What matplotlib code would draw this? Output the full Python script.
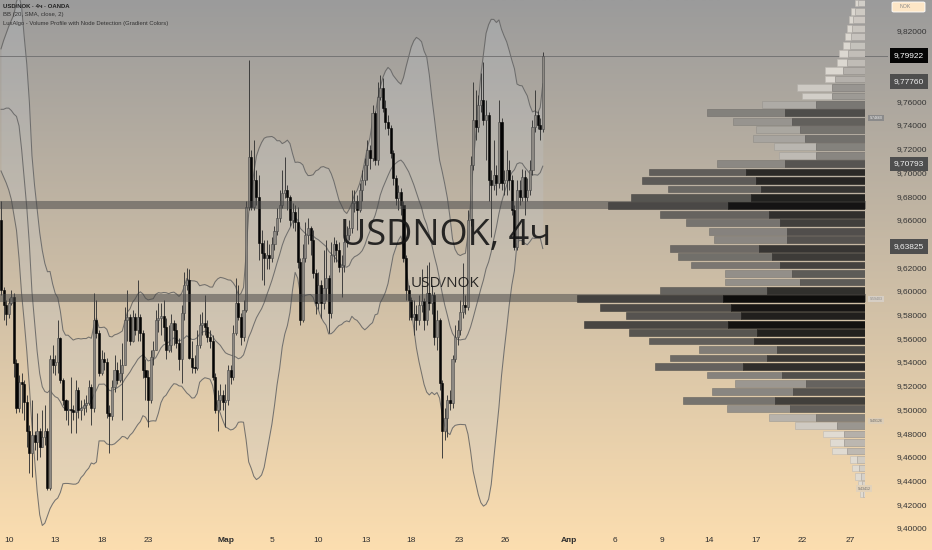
import numpy as np
import pandas as pd
import matplotlib
matplotlib.use("Agg")
import matplotlib.pyplot as plt
from matplotlib.transforms import blended_transform_factory
from matplotlib.patches import FancyBboxPatch

# ---------------- data ----------------
first_open = 9.661
closes = [9.602, 9.589, 9.581, 9.591, 9.596, 9.540, 9.502, 9.524, 9.522, 9.507,
          9.483, 9.464, 9.479, 9.473, 9.483, 9.469, 9.478, 9.483, 9.435, 9.543,
          9.538, 9.541, 9.561, 9.526, 9.509, 9.500, 9.501, 9.500, 9.499, 9.517,
          9.500, 9.502, 9.505, 9.506, 9.520, 9.502, 9.576, 9.565, 9.532, 9.543,
          9.541, 9.498, 9.495, 9.520, 9.534, 9.526, 9.532, 9.538, 9.576, 9.579,
          9.559, 9.579, 9.568, 9.579, 9.565, 9.534, 9.528, 9.509, 9.545, 9.551,
          9.576, 9.578, 9.580, 9.570, 9.551, 9.555, 9.574, 9.568, 9.557, 9.543,
          9.582, 9.606, 9.610, 9.544, 9.537, 9.536, 9.555, 9.572, 9.574, 9.570,
          9.562, 9.559, 9.528, 9.500, 9.509, 9.513, 9.507, 9.509, 9.534, 9.528,
          9.565, 9.591, 9.579, 9.562, 9.585, 9.672, 9.714, 9.672, 9.694, 9.680,
          9.641, 9.633, 9.629, 9.631, 9.629, 9.640, 9.651, 9.662, 9.673, 9.683,
          9.686, 9.680, 9.661, 9.667, 9.659, 9.625, 9.576, 9.629, 9.648, 9.654,
          9.644, 9.616, 9.591, 9.606, 9.591, 9.603, 9.612, 9.582, 9.631, 9.640,
          9.635, 9.621, 9.623, 9.642, 9.648, 9.654, 9.675, 9.677, 9.669, 9.686,
          9.694, 9.707, 9.720, 9.713, 9.751, 9.711, 9.764, 9.772, 9.755, 9.743,
          9.738, 9.717, 9.696, 9.679, 9.684, 9.673, 9.629, 9.602, 9.593, 9.579,
          9.581, 9.576, 9.589, 9.592, 9.576, 9.599, 9.591, 9.597, 9.562, 9.576,
          9.523, 9.483, 9.494, 9.509, 9.506, 9.543, 9.562, 9.568, 9.583, 9.589,
          9.587, 9.661, 9.707, 9.745, 9.739, 9.758, 9.762, 9.745, 9.749, 9.694,
          9.690, 9.699, 9.692, 9.743, 9.692, 9.694, 9.703, 9.694, 9.669, 9.638,
          9.686, 9.680, 9.697, 9.680, 9.686, 9.703, 9.739, 9.749, 9.741, 9.737,
          9.7992]
highs = [9.677, 9.604, 9.593, 9.595, 9.602, 9.599, 9.543, 9.530, 9.532, 9.526,
         9.513, 9.488, 9.509, 9.483, 9.498, 9.485, 9.500, 9.505, 9.485, 9.547,
         9.555, 9.547, 9.576, 9.562, 9.527, 9.510, 9.509, 9.528, 9.505, 9.526,
         9.520, 9.509, 9.510, 9.513, 9.526, 9.522, 9.599, 9.593, 9.568, 9.551,
         9.549, 9.544, 9.505, 9.526, 9.547, 9.541, 9.543, 9.557, 9.587, 9.602,
         9.581, 9.585, 9.582, 9.610, 9.581, 9.568, 9.543, 9.534, 9.551, 9.559,
         9.585, 9.591, 9.591, 9.593, 9.578, 9.572, 9.581, 9.576, 9.574, 9.561,
         9.589, 9.617, 9.620, 9.619, 9.559, 9.547, 9.568, 9.581, 9.583, 9.597,
         9.576, 9.568, 9.564, 9.532, 9.517, 9.522, 9.517, 9.522, 9.538, 9.538,
         9.572, 9.612, 9.606, 9.582, 9.593, 9.677, 9.796, 9.720, 9.728, 9.703,
         9.699, 9.652, 9.644, 9.644, 9.640, 9.646, 9.656, 9.671, 9.686, 9.703,
         9.714, 9.690, 9.682, 9.675, 9.673, 9.672, 9.629, 9.640, 9.659, 9.662,
         9.656, 9.652, 9.619, 9.617, 9.610, 9.635, 9.644, 9.614, 9.642, 9.646,
         9.644, 9.642, 9.631, 9.648, 9.656, 9.661, 9.686, 9.686, 9.682, 9.692,
         9.703, 9.713, 9.728, 9.724, 9.758, 9.753, 9.777, 9.783, 9.780, 9.762,
         9.749, 9.741, 9.720, 9.699, 9.690, 9.688, 9.677, 9.631, 9.606, 9.596,
         9.593, 9.589, 9.597, 9.619, 9.595, 9.623, 9.625, 9.606, 9.600, 9.585,
         9.578, 9.526, 9.502, 9.513, 9.517, 9.547, 9.572, 9.576, 9.593, 9.624,
         9.597, 9.669, 9.715, 9.777, 9.770, 9.766, 9.785, 9.794, 9.762, 9.752,
         9.703, 9.728, 9.707, 9.762, 9.747, 9.703, 9.720, 9.711, 9.699, 9.673,
         9.694, 9.694, 9.704, 9.703, 9.696, 9.711, 9.745, 9.770, 9.753, 9.747,
         9.802]
lows = [9.597, 9.576, 9.572, 9.578, 9.589, 9.528, 9.498, 9.499, 9.498, 9.492,
        9.469, 9.447, 9.444, 9.467, 9.458, 9.461, 9.469, 9.471, 9.433, 9.433,
        9.532, 9.530, 9.532, 9.523, 9.505, 9.492, 9.488, 9.481, 9.492, 9.481,
        9.494, 9.492, 9.496, 9.499, 9.505, 9.488, 9.499, 9.561, 9.529, 9.530,
        9.534, 9.494, 9.464, 9.492, 9.516, 9.522, 9.524, 9.492, 9.538, 9.559,
        9.555, 9.558, 9.564, 9.559, 9.559, 9.527, 9.509, 9.486, 9.506, 9.538,
        9.555, 9.566, 9.564, 9.559, 9.543, 9.549, 9.549, 9.555, 9.553, 9.534,
        9.523, 9.576, 9.602, 9.543, 9.532, 9.532, 9.534, 9.553, 9.564, 9.564,
        9.558, 9.553, 9.526, 9.498, 9.483, 9.500, 9.500, 9.486, 9.505, 9.522,
        9.526, 9.564, 9.576, 9.555, 9.559, 9.583, 9.669, 9.669, 9.669, 9.673,
        9.627, 9.610, 9.606, 9.619, 9.619, 9.625, 9.635, 9.648, 9.659, 9.671,
        9.679, 9.669, 9.656, 9.654, 9.651, 9.620, 9.572, 9.575, 9.625, 9.640,
        9.631, 9.612, 9.581, 9.586, 9.578, 9.586, 9.593, 9.565, 9.578, 9.625,
        9.625, 9.617, 9.596, 9.617, 9.638, 9.644, 9.650, 9.667, 9.652, 9.667,
        9.677, 9.690, 9.694, 9.704, 9.710, 9.707, 9.707, 9.762, 9.752, 9.737,
        9.732, 9.713, 9.690, 9.673, 9.669, 9.665, 9.625, 9.593, 9.576, 9.576,
        9.564, 9.568, 9.572, 9.583, 9.568, 9.572, 9.585, 9.581, 9.555, 9.551,
        9.517, 9.460, 9.475, 9.478, 9.500, 9.502, 9.541, 9.555, 9.564, 9.578,
        9.581, 9.585, 9.656, 9.703, 9.728, 9.735, 9.752, 9.741, 9.711, 9.677,
        9.646, 9.686, 9.682, 9.688, 9.686, 9.682, 9.682, 9.686, 9.665, 9.635,
        9.635, 9.673, 9.677, 9.665, 9.677, 9.682, 9.699, 9.735, 9.737, 9.728,
        9.735]

# Bollinger band values for the first bars (before 20 closes exist)
bb_upper_early = [9.805, 9.812, 9.818, 9.824, 9.829, 9.834, 9.845, 9.850, 9.840, 9.815,
                  9.792, 9.760, 9.715, 9.690, 9.670, 9.650, 9.635, 9.624, 9.617]
bb_mid_early = [9.754, 9.754, 9.755, 9.755, 9.753, 9.750, 9.748, 9.740, 9.720, 9.695,
                9.671, 9.640, 9.600, 9.575, 9.550, 9.531, 9.520, 9.516, 9.515]
bb_lower_early = [9.702, 9.697, 9.692, 9.686, 9.678, 9.665, 9.652, 9.628, 9.598, 9.575,
                  9.550, 9.520, 9.487, 9.460, 9.432, 9.412, 9.403, 9.405, 9.411]

# volume profile rows (top to bottom), total and darker part
prof_top = 9.8437
prof_step = 0.00713
prof_total = [10, 14, 16, 18, 20, 22, 26, 28, 40, 40,
              68, 63, 103, 158, 132, 109, 112, 91, 86, 148,
              216, 223, 197, 234, 257, 205, 179, 156, 151, 195,
              187, 174, 140, 140, 205, 288, 265, 239, 281, 236,
              216, 166, 195, 210, 158, 130, 153, 182, 138, 96,
              70, 42, 35, 33, 15, 13, 10, 7, 5]
prof_dark = [7, 10, 12, 13, 14, 15, 17, 18, 22, 30,
             33, 33, 49, 80, 73, 65, 60, 49, 49, 80,
             119, 109, 104, 114, 137, 96, 85, 78, 78, 106,
             93, 85, 73, 65, 98, 142, 134, 124, 137, 108,
             111, 88, 98, 122, 83, 59, 72, 90, 75, 49,
             28, 21, 21, 18, 8, 6, 4, 3, 2]
poc_levels = [9.673, 9.595]
node_labels = [9.74660, 9.59403, 9.49126, 9.43412]
last_price = 9.79922
bb_last = [9.77760, 9.70793, 9.63825]

# price scale labels visible in the picture (9.80 and 9.64 sit under the value boxes)
price_ticks = [9.40, 9.42, 9.44, 9.46, 9.48, 9.50, 9.52, 9.54, 9.56, 9.58, 9.60,
               9.62, 9.66, 9.68, 9.70, 9.72, 9.74, 9.76, 9.78, 9.82]
date_labels = ["10", "13", "18", "23", "Мар", "5", "10", "13", "18", "23", "26",
               "Апр", "6", "9", "14", "17", "22", "27"]
date_bars = [3, 21, 39, 57, 87, 105, 123, 141.5, 159, 177.5, 195.5,
             220, 238, 256, 274.5, 292.5, 310.5, 329]

# ---------------- figure ----------------
W, H = 932, 550
fig = plt.figure(figsize=(W / 100, H / 100), dpi=100)

bg = fig.add_axes([0, 0, 1, 1])
bg.axis("off")
top = np.array([155, 155, 155]) / 255
bot = np.array([252, 222, 176]) / 255
g = np.linspace(0, 1, 512)[:, None, None]
img = top[None, None, :] * (1 - g) + bot[None, None, :] * g
bg.imshow(img, aspect="auto", extent=[0, 1, 0, 1], zorder=0)

plot_h = 532
ax = fig.add_axes([0, (H - plot_h) / H, 888 / W, plot_h / H])
ax.set_facecolor("none")
for s in ax.spines.values():
    s.set_visible(False)
ax.set_xticks([])
ax.set_yticks([])
x_left, x_right = -0.39, 343.8
y_top = 9.8462
y_bot = 9.3975
ax.set_xlim(x_left, x_right)
ax.set_ylim(y_bot, y_top)

c = np.array(closes)
hi = np.array(highs)
lo = np.array(lows)
n = len(c)
idx = np.arange(n)
o = np.r_[first_open, c[:-1]]
hi = np.maximum(hi, np.maximum(o, c))
lo = np.minimum(lo, np.minimum(o, c))

# Bollinger bands
s = pd.Series(c)
mid = s.rolling(20).mean().to_numpy()
sd = s.rolling(20).std(ddof=0).to_numpy()
upper = mid + 2 * sd
lower = mid - 2 * sd
upper[:19] = bb_upper_early
mid[:19] = bb_mid_early
lower[:19] = bb_lower_early

ax.fill_between(idx, lower, upper, color="#c3ccd6", alpha=0.22, lw=0, zorder=1)
for band in (upper, mid, lower):
    ax.plot(idx, band, color="#626262", lw=0.75, alpha=0.85, zorder=2)

# candles
up = c >= o
ax.vlines(idx, lo, hi, color="#363636", lw=0.65, zorder=3)
body_min = 0.0007
bu = np.maximum(np.abs(c - o), body_min)
ax.bar(idx[up], bu[up], bottom=o[up], width=0.8, color="#8d8983",
       edgecolor="#484848", lw=0.4, zorder=4)
ax.bar(idx[~up], bu[~up], bottom=c[~up], width=0.8, color="#050505",
       edgecolor="#050505", lw=0.4, zorder=4)

# last price line
ax.axhline(last_price, color="#6e6e6e", lw=0.6, zorder=2)

# POC lines
for p in poc_levels:
    ax.hlines(p, x_left, 335.3, color="#464646", lw=5.8, alpha=0.52, zorder=5)

# watermark
ax.text(172.3, 9.6472, "USDNOK, 4ч", fontsize=26, color="#151515", alpha=0.9,
        ha="center", va="center", family=["Open Sans", "DejaVu Sans"], zorder=6)
ax.text(172.0, 9.6072, "USD/NOK", fontsize=11, color="#151515", alpha=0.9,
        ha="center", va="center", family=["Open Sans", "DejaVu Sans"], zorder=6)

# ---------------- volume profile ----------------
pax = fig.add_axes([500 / W, (H - plot_h) / H, 365 / W, plot_h / H])
pax.set_facecolor("none")
pax.axis("off")
pax.set_xlim(365, 0)
pax.set_ylim(y_bot, y_top)
tot = np.array(prof_total, dtype=float)
drk = np.array(prof_dark, dtype=float)
centers = prof_top - prof_step * np.arange(len(tot))
tt = tot / tot.max()
lev = 0.85 * (1 - tt) ** 1.5 + 0.03
for yc, t_, d_, L in zip(centers, tot, drk, lev):
    Ll = min(L + 0.22, 0.88)
    cd = (L, L * 0.98, L * 0.95)
    cl = (Ll, Ll * 0.98, Ll * 0.95)
    pax.barh(yc, t_ - d_, left=d_, height=prof_step * 0.8, color=cl,
             edgecolor=(Ll * 0.85, Ll * 0.83, Ll * 0.8), lw=0.4, alpha=0.95, zorder=3)
    pax.barh(yc, d_, left=0, height=prof_step * 0.8, color=cd,
             edgecolor=(L * 0.8, L * 0.78, L * 0.76), lw=0.4, alpha=0.95, zorder=3)

# node labels
node_fc = ["#8a8a8a", "#d6cec4", "#dccdb6", "#e2d2ba"]
node_tc = ["#f2f2f2", "#8a8a8a", "#6a6a6a", "#6a6a6a"]
node_x = [876, 876, 876, 864]
trA = blended_transform_factory(fig.transFigure, ax.transData)
for p, fc, tc, xp in zip(node_labels, node_fc, node_tc, node_x):
    fig.text(xp / W, p, f"{p:.5f}", transform=trA, fontsize=2.6,
             color=tc, ha="center", va="center", family="Liberation Sans",
             bbox=dict(boxstyle="square,pad=0.35", fc=fc, ec="none"), zorder=8)

# ---------------- price scale ----------------
tr = blended_transform_factory(ax.transAxes, ax.transData)
for v in price_ticks:
    ax.text(927 / 888, v, f"{v:.5f}".replace(".", ","), transform=tr,
            ha="right", va="center", fontsize=6, color="#353535",
            family="Liberation Sans", clip_on=False, zorder=7)

ax.text(909 / 888, last_price, f"{last_price:.5f}".replace(".", ","), transform=tr,
        ha="center", va="center", fontsize=6, color="white", family="Liberation Sans",
        bbox=dict(boxstyle="square,pad=0.45", fc="#050505", ec="none"),
        clip_on=False, zorder=9)
for v in bb_last:
    ax.text(909 / 888, v, f"{v:.5f}".replace(".", ","), transform=tr,
            ha="center", va="center", fontsize=6, color="#f0f0f0", family="Liberation Sans",
            bbox=dict(boxstyle="square,pad=0.45", fc="#4e4e4e", ec="none"),
            clip_on=False, zorder=9)

box = FancyBboxPatch((892 / W, 1 - 12 / H), 33 / W, 10 / H,
                     boxstyle="round,pad=0,rounding_size=0.002",
                     transform=fig.transFigure, fc="#fde6c6", ec="white", lw=0.6)
fig.patches.append(box)
fig.text(900 / W, 1 - 7 / H, "NOK", fontsize=3.8, color="#8a8a8a", ha="left",
         va="center", family="Liberation Sans")

# ---------------- time scale ----------------
trx = blended_transform_factory(ax.transData, ax.transAxes)
for lab, b in zip(date_labels, date_bars):
    bold = lab in ("Мар", "Апр")
    ax.text(b, (plot_h - 540) / plot_h, lab, transform=trx, ha="center", va="center",
            fontsize=6, color="#2e2e2e", fontweight="bold" if bold else "normal",
            family=["Liberation Sans", "DejaVu Sans"], clip_on=False)

# ---------------- legend ----------------
fig.text(3 / W, 1 - 6 / H, "USD/NOK · 4ч · OANDA", fontsize=4.3, color="#222222",
         fontweight="bold", ha="left", va="center", family=["Liberation Sans", "DejaVu Sans"])
fig.text(3 / W, 1 - 14.5 / H, "BB (20, SMA, close, 2)", fontsize=4.3, color="#333333",
         ha="left", va="center", family=["Liberation Sans", "DejaVu Sans"])
fig.text(3 / W, 1 - 23 / H, "LuxAlgo - Volume Profile with Node Detection (Gradient Colors)",
         fontsize=4.2, color="#333333", ha="left", va="center",
         family=["Liberation Sans", "DejaVu Sans"])

fig.savefig("out.png", dpi=100)
